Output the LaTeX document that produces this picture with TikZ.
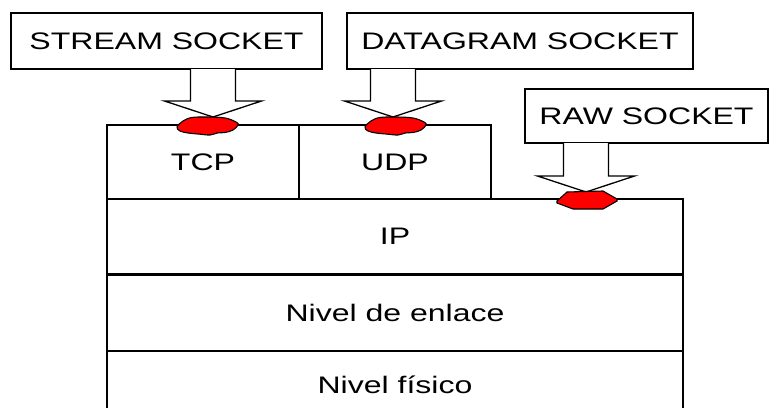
\documentclass[tikz,border=0pt]{standalone}
\usepackage{fontspec}
\setmainfont{Liberation Sans}[FakeStretch=1.34]
\usepackage{tikz}
\usetikzlibrary{positioning}

\tikzset{
  box/.style={draw, line width=1.3pt, inner sep=0pt, font=\fontsize{23.9}{28}\selectfont},
  layer/.style={box, minimum width=576pt, minimum height=75pt},
  blockarr/.style={draw, fill=white, line width=1.3pt, line join=miter},
  blob/.style={draw, fill=red, line width=1.1pt}
}
% block arrow: x of tip, y of top, y of tip
\newcommand{\blockarrow}[3]{%
  \draw[blockarr] (#1-22.5,#2) -- (#1-22.5,#3-16) -- (#1-48.5,#3-16) -- (#1,#3)
    -- (#1+48.5,#3-16) -- (#1+22.5,#3-16) -- (#1+22.5,#2);}
% red blob on a box edge
\newcommand{\redblob}[2]{%
  \draw[blob, shift={(#1,#2)}] plot[smooth cycle, tension=0.6] coordinates {
    (-30,1) (-24,-5) (-15,-8.5) (1,-9) (18,-8) (29,-4) (31,-1) (26,4)
    (18,6.5) (10,7) (3,9) (-9,8) (-19,7) (-27,5)};}

\begin{document}
\begin{tikzpicture}[x=1pt, y=-1pt]
\useasboundingbox (0,0) rectangle (770,407);
\clip (0,0) rectangle (770,407);

% protocol stack
\node[box, minimum width=192pt, minimum height=74pt] (tcp) at (203,162) {TCP};
\node[box, minimum width=192pt, minimum height=74pt] (udp) at (395,162) {UDP};
\node[layer] (ip) at (395,236.5) {IP};
\node[layer, below=0pt of ip] (enlace) {Nivel de enlace};
\node[layer, minimum height=66pt, below=0pt of enlace] (fisico) {Nivel físico};

% sockets
\node[box, minimum width=311pt, minimum height=56pt] (stream) at (166.5,41) {STREAM SOCKET};
\node[box, minimum width=346pt, minimum height=56pt] (dgram) at (520,41) {DATAGRAM SOCKET};
\node[box, minimum width=243pt, minimum height=54pt] (raw) at (646.5,116) {RAW SOCKET};

\blockarrow{213}{69}{117}
\blockarrow{393}{69}{117}
\blockarrow{586}{143}{192}

\redblob{207}{126}
\redblob{395}{126}
\draw[blob] (557,201) -- (567,192) -- (603,191) -- (617,199) -- (617,201)
  -- (603,209) -- (573,209) -- (557,203) -- cycle;
\end{tikzpicture}
\end{document}
